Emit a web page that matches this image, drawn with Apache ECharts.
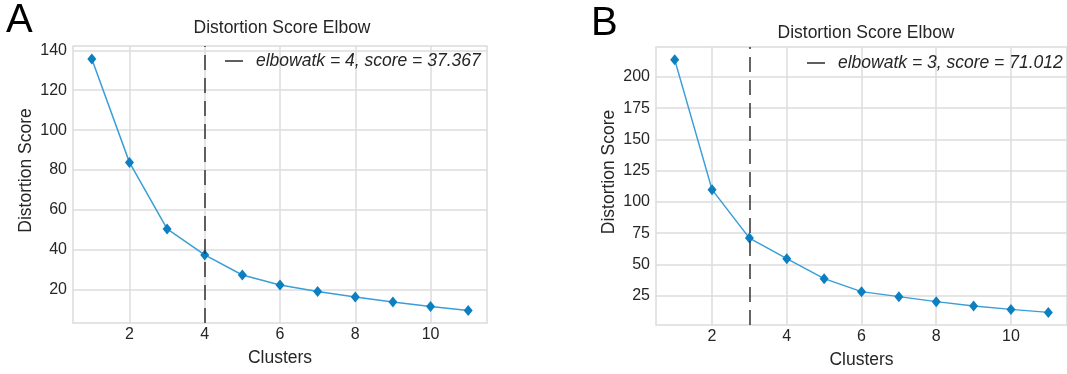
<!DOCTYPE html>
<html>
<head>
<meta charset="utf-8">
<script src="https://cdn.jsdelivr.net/npm/echarts@6/dist/echarts.min.js"></script>
<style>
  html, body { margin: 0; padding: 0; background: #fff; }
  #elbow { width: 1067px; height: 374px; }
</style>
</head>
<body>
<div id="elbow"></div>
<script>
var elbowChart = echarts.init(document.getElementById("elbow"));

// number of clusters k
var clusters = [1, 2, 3, 4, 5, 6, 7, 8, 9, 10, 11];
// distortion scores, panel A
var scoresA = [135.7, 83.8, 50.4, 37.367, 27.3, 22.3, 19.0, 16.2, 13.7, 11.5, 9.5];
// distortion scores, panel B
var scoresB = [213.8, 109.8, 71.012, 54.6, 38.6, 28.2, 24.2, 20.2, 16.7, 14.0, 11.6];
// elbow points
var elbowA = 4, elbowScoreA = 37.367;
var elbowB = 3, elbowScoreB = 71.012;
// tick labels
var xTicks = [2, 4, 6, 8, 10];
var yTicksA = [20, 40, 60, 80, 100, 120, 140];
var yTicksB = [25, 50, 75, 100, 125, 150, 175, 200];

var font = "'Liberation Sans', Arial, sans-serif";
var lineColor = '#3a9ed8';
var markColor = '#0b7fc0';
var gridColor = '#dcdcdc';

function pairs(xs, ys) {
    var out = [];
    for (var i = 0; i < xs.length; i++) out.push([xs[i], ys[i]]);
    return out;
}

var legendA = 'elbowatk = ' + elbowA + ', score = ' + elbowScoreA.toFixed(3);
var legendB = 'elbowatk = ' + elbowB + ', score = ' + elbowScoreB.toFixed(3);

function xAxisOf(idx) {
    return {
        gridIndex: idx,
        type: 'value',
        min: 0.5,
        max: 11.5,
        name: 'Clusters',
        nameLocation: 'middle',
        nameGap: 26,
        nameTextStyle: { fontFamily: font, fontSize: 17.5, color: '#262626' },
        axisLine: { show: false },
        axisTick: { show: false, customValues: xTicks },
        axisLabel: { customValues: xTicks, margin: 4, fontFamily: font, fontSize: 16, color: '#262626' },
        splitLine: { show: true, lineStyle: { color: gridColor, width: 1.5 } }
    };
}

function yAxisOf(idx, lo, hi, ticks) {
    return {
        gridIndex: idx,
        type: 'value',
        min: lo,
        max: hi,
        name: 'Distortion Score',
        nameLocation: 'middle',
        nameGap: 38,
        nameTextStyle: { fontFamily: font, fontSize: 17.5, color: '#262626', padding: [0, 0, 0, 28] },
        axisLine: { show: false },
        axisTick: { show: false, customValues: ticks },
        axisLabel: { customValues: ticks, margin: 6, fontFamily: font, fontSize: 16, color: '#262626' },
        splitLine: { show: true, lineStyle: { color: gridColor, width: 1.5 } }
    };
}

function scoreSeries(idx, ys) {
    return {
        type: 'line',
        xAxisIndex: idx,
        yAxisIndex: idx,
        data: pairs(clusters, ys),
        symbol: 'diamond',
        symbolSize: [9, 11],
        lineStyle: { color: lineColor, width: 1.5 },
        itemStyle: { color: markColor },
        silent: true,
        z: 3
    };
}

function elbowSeries(idx, name, k) {
    return {
        name: name,
        type: 'line',
        xAxisIndex: idx,
        yAxisIndex: idx,
        data: [],
        itemStyle: { color: '#2a2a2a' },
        markLine: {
            silent: true,
            symbol: 'none',
            label: { show: false },
            lineStyle: { color: '#333', width: 1.5, type: [15, 8] },
            data: [{ xAxis: k }]
        },
        z: 2
    };
}

function legendOf(name, left, top) {
    return {
        data: [name],
        left: left,
        top: top,
        padding: 0,
        icon: 'rect',
        itemWidth: 18,
        itemHeight: 1.5,
        selectedMode: false,
        textStyle: { fontFamily: font, fontSize: 17.5, fontStyle: 'italic', color: '#262626', padding: [0, 0, 0, 8] }
    };
}

var option = {
    animation: false,
    backgroundColor: '#fff',
    title: [
        { text: 'A', left: 6, top: 1, padding: 0, textStyle: { fontFamily: font, fontSize: 40, fontWeight: 'normal', color: '#000' } },
        { text: 'B', left: 591, top: 4, padding: 0, textStyle: { fontFamily: font, fontSize: 40, fontWeight: 'normal', color: '#000' } },
        { text: 'Distortion Score Elbow', left: 282, top: 19, padding: 0, textAlign: 'center',
          textStyle: { fontFamily: font, fontSize: 17.5, fontWeight: 'normal', color: '#262626' } },
        { text: 'Distortion Score Elbow', left: 866, top: 24, padding: 0, textAlign: 'center',
          textStyle: { fontFamily: font, fontSize: 17.5, fontWeight: 'normal', color: '#262626' } }
    ],
    legend: [
        legendOf(legendA, 225, 52),
        legendOf(legendB, 807, 54)
    ],
    grid: [
        { left: 73, top: 46, width: 414, height: 277, show: true, borderColor: gridColor, borderWidth: 1.5 },
        { left: 656, top: 47, width: 412, height: 278, show: true, borderColor: gridColor, borderWidth: 1.5 }
    ],
    xAxis: [xAxisOf(0), xAxisOf(1)],
    yAxis: [
        yAxisOf(0, 3.2, 142.2, yTicksA),
        yAxisOf(1, 1.5, 223.9, yTicksB)
    ],
    series: [
        scoreSeries(0, scoresA),
        elbowSeries(0, legendA, elbowA),
        scoreSeries(1, scoresB),
        elbowSeries(1, legendB, elbowB)
    ]
};

elbowChart.setOption(option, true);
</script>
</body>
</html>
